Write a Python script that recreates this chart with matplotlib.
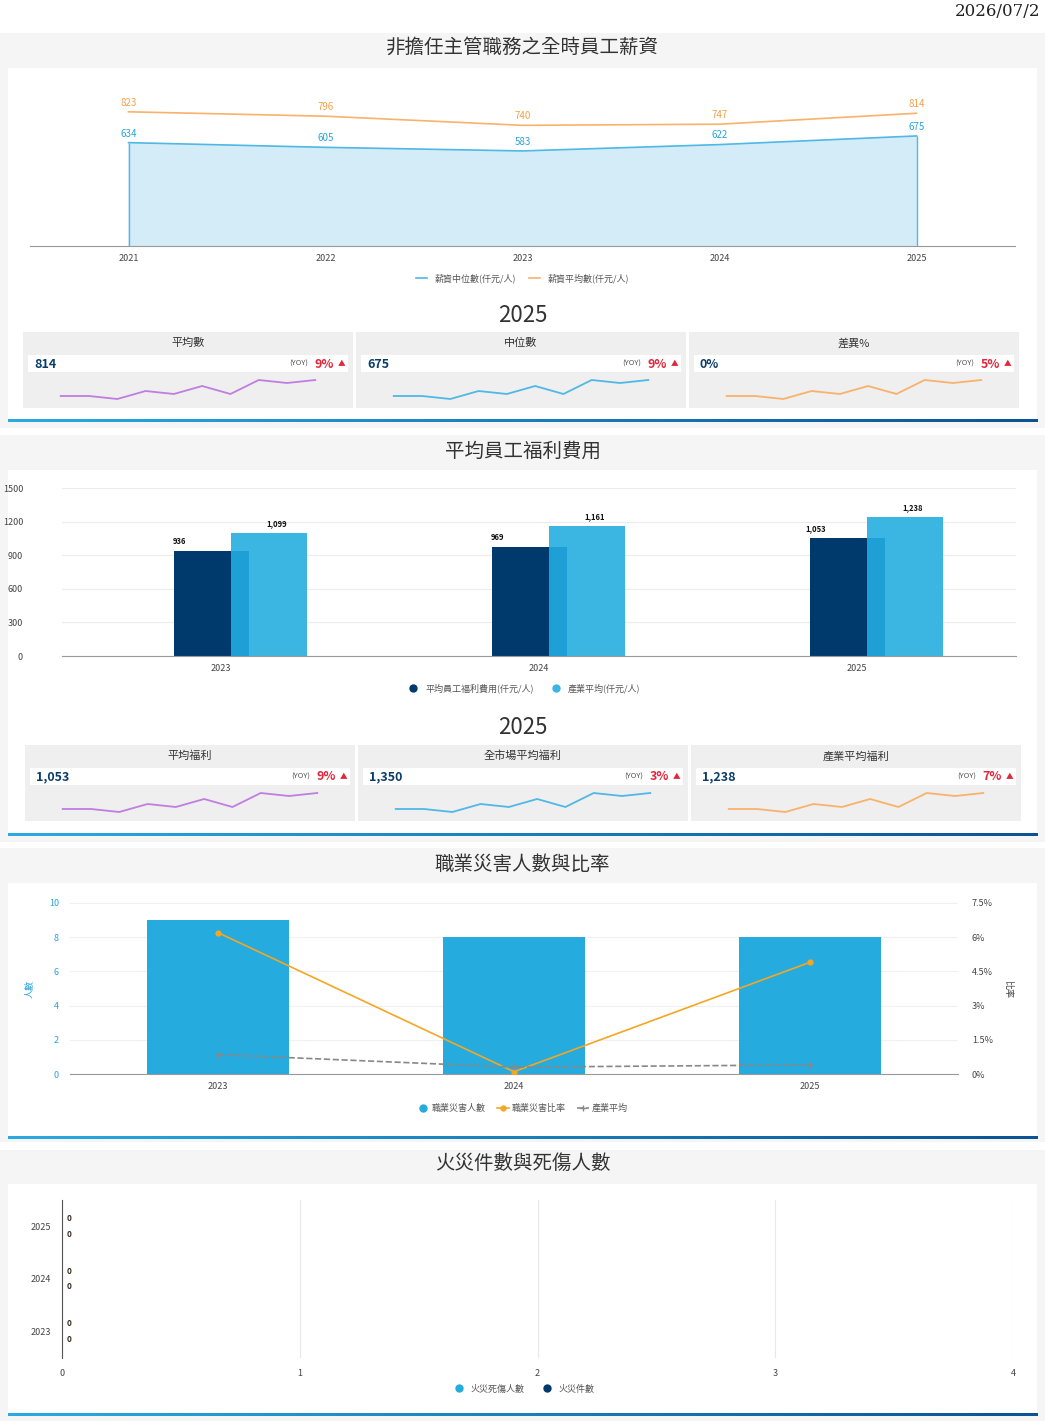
import matplotlib
matplotlib.use("Agg")
import matplotlib.pyplot as plt
from matplotlib.patches import Rectangle
from matplotlib.lines import Line2D
import numpy as np

plt.rcParams['font.family'] = ['Noto Sans CJK TC', 'DejaVu Sans']

# ---------------- data ----------------
sal_years = ["2021", "2022", "2023", "2024", "2025"]
sal_median = [634, 605, 583, 622, 675]
sal_mean = [823, 796, 740, 747, 814]

kpi1_titles = ["平均數", "中位數", "差異%"]
kpi1_values = ["814", "675", "0%"]
kpi1_yoy = ["9%", "9%", "5%"]

ben_years = ["2023", "2024", "2025"]
ben_company = [936, 969, 1053]
ben_industry = [1099, 1161, 1238]

kpi2_titles = ["平均福利", "全市場平均福利", "產業平均福利"]
kpi2_values = ["1,053", "1,350", "1,238"]
kpi2_yoy = ["9%", "3%", "7%"]

spark = [0.0, 0.0, -0.3, 0.5, 0.2, 1.0, 0.2, 1.6, 1.3, 1.6]
spark_colors = ["#c07ee0", "#4fb8e6", "#f8b26a"]

occ_years = ["2023", "2024", "2025"]
occ_count = [9, 8, 8]
occ_rate = [6.2, 0.1, 4.9]
occ_ind = [0.85, 0.3, 0.4]

fire_years = ["2023", "2024", "2025"]
fire_injury = [0, 0, 0]
fire_count = [0, 0, 0]

W, H = 1045, 1421
fig = plt.figure(figsize=(W / 100, H / 100), dpi=100)
fig.patch.set_facecolor("white")

def fx(x): return x / W
def fy(y): return 1 - y / H

def px_axes(x, y, w, h, **kw):
    a = fig.add_axes([fx(x), fy(y + h), w / W, h / H], **kw)
    a.patch.set_alpha(0)
    return a

def rect(x, y, w, h, color, z=0):
    fig.patches.append(Rectangle((fx(x), fy(y + h)), w / W, h / H, transform=fig.transFigure,
                                 facecolor=color, edgecolor="none", zorder=z - 10))

def gradient_line(y):
    ax = px_axes(8, y, 1030, 3)
    grad = np.linspace(0, 1, 256)[None, :]
    ax.imshow(grad, aspect="auto", cmap=matplotlib.colors.LinearSegmentedColormap.from_list("g", ["#29abe2", "#0b5394"]))
    ax.axis("off")

fig.text(fx(1040), fy(12), "2026/07/2", ha="right", va="center", fontsize=12, family="DejaVu Serif", color="#222")

for (y0, y1) in [(33, 428), (435, 842), (848, 1142), (1150, 1421)]:
    rect(0, y0, W, y1 - y0, "#f5f5f5", 0)
for (y0, y1) in [(68, 420), (470, 833), (883, 1137), (1184, 1414)]:
    rect(8, y0, 1029, y1 - y0, "white", 1)
gradient_line(419)
gradient_line(833)
gradient_line(1136)
gradient_line(1413)

titles = [(47, "非擔任主管職務之全時員工薪資"), (451, "平均員工福利費用"), (864, "職業災害人數與比率"), (1163, "火災件數與死傷人數")]
for y, t in titles:
    fig.text(0.5, fy(y), t, ha="center", va="center", fontsize=14, weight="medium", color="#333")

# ---------------- salary line chart ----------------
ax = px_axes(30, 80, 985, 166)
x = np.arange(len(sal_years))
ax.fill_between(x, sal_median, color="#d4ecf8", zorder=1)
ax.plot(x, sal_median, color="#4fb8e6", lw=1.2, zorder=2)
ax.plot(x, sal_mean, color="#f8b26a", lw=1.2, zorder=2)
ax.vlines([x[0], x[-1]], 0, [sal_median[0], sal_median[-1]], color="#4fb8e6", lw=1)
for i in x:
    ax.text(i, sal_median[i] + 25, str(sal_median[i]), ha="center", va="bottom", fontsize=7, color="#29a3dc")
    ax.text(i, sal_mean[i] + 25, str(sal_mean[i]), ha="center", va="bottom", fontsize=7, color="#f5a04a")
ax.set_xlim(-0.5, 4.5)
ax.set_ylim(0, 1018)
ax.set_xticks(x, sal_years, fontsize=6.5, color="#444")
ax.set_yticks([])
for s in ["top", "right", "left"]:
    ax.spines[s].set_visible(False)
ax.spines["bottom"].set_color("#999")
ax.tick_params(axis="x", length=0, pad=6)
h = [Line2D([], [], color="#4fb8e6", lw=1.2), Line2D([], [], color="#f8b26a", lw=1.2)]
fig.legend(h, ["薪資中位數(仟元/人)", "薪資平均數(仟元/人)"], loc="center", bbox_to_anchor=(0.5, fy(278)),
           ncol=2, frameon=False, fontsize=6.5, handlelength=1.2, columnspacing=1.5, labelcolor="#555")

# ---------------- KPI cards ----------------
def kpi_row(ytitle, yblock, xs, titles_, values, yoys):
    fig.text(0.5, fy(ytitle), "2025", ha="center", va="center", fontsize=16, color="#333")
    for k, x0 in enumerate(xs):
        w = 330
        rect(x0, yblock, w, 76, "#efefef", 2)
        fig.text(fx(x0 + w / 2), fy(yblock + 11), titles_[k], ha="center", va="center", fontsize=8, color="#333")
        rect(x0 + 5, yblock + 23, w - 10, 17, "white", 3)
        fig.text(fx(x0 + 11), fy(yblock + 32), values[k], ha="left", va="center", fontsize=9, weight="bold", color="#0b3d6b")
        fig.text(fx(x0 + w - 8), fy(yblock + 32), "▲", ha="right", va="center", fontsize=5.5, color="#e0283c")
        fig.text(fx(x0 + w - 19), fy(yblock + 32), yoys[k], ha="right", va="center", fontsize=9, weight="bold", color="#e0283c")
        fig.text(fx(x0 + w - 45), fy(yblock + 32), "(YOY)", ha="right", va="center", fontsize=5.5, color="#555")
        sa = px_axes(x0 + 25, yblock + 44, w - 50, 28)
        sa.plot(range(len(spark)), spark, color=spark_colors[k], lw=1.3)
        sa.set_ylim(-0.8, 2.0)
        sa.axis("off")

kpi_row(316, 332, [23, 356, 689], kpi1_titles, kpi1_values, kpi1_yoy)

# ---------------- benefit bar chart ----------------
ax = px_axes(62, 488, 954, 168)
xb = np.arange(len(ben_years))
ax.bar(xb - 0.030, ben_company, width=0.236, color="#003a6c", zorder=2)
ax.bar(xb + 0.151, ben_industry, width=0.239, color="#3bb6e2", zorder=2)
ax.bar(xb + 0.060, ben_company, width=0.056, color="#1e9fd6", zorder=3)
for i in xb:
    ax.text(i - 0.13, ben_company[i] + 45, f"{ben_company[i]:,}", ha="center", va="bottom", fontsize=5.5, weight="bold", color="#111")
    ax.text(i + 0.175, ben_industry[i] + 45, f"{ben_industry[i]:,}", ha="center", va="bottom", fontsize=5.5, weight="bold", color="#111")
ax.set_xlim(-0.5, 2.5)
ax.set_ylim(0, 1500)
ax.set_yticks([0, 300, 600, 900, 1200, 1500])
ax.set_yticklabels(["0", "300", "600", "900", "1200", "1500"], fontsize=6.5, color="#444")
ax.set_xticks(xb, ben_years, fontsize=6.5, color="#444")
ax.grid(axis="y", color="#ececec", lw=0.8, zorder=0)
ax.set_axisbelow(True)
for s in ["top", "right", "left"]:
    ax.spines[s].set_visible(False)
ax.spines["bottom"].set_color("#999")
ax.tick_params(length=0, pad=6)
ax.tick_params(axis="y", pad=28)
h = [Line2D([], [], marker="o", ls="", color="#003a6c", ms=5), Line2D([], [], marker="o", ls="", color="#3bb6e2", ms=5)]
fig.legend(h, ["平均員工福利費用(仟元/人)", "產業平均(仟元/人)"], loc="center", bbox_to_anchor=(0.5, fy(688)),
           ncol=2, frameon=False, fontsize=6.5, handletextpad=0.3, columnspacing=1.5, labelcolor="#555")

kpi_row(727, 745, [25, 358, 691], kpi2_titles, kpi2_values, kpi2_yoy)

# ---------------- occupational injury ----------------
ax = px_axes(70, 903, 888, 171)
xo = np.arange(len(occ_years))
ax.bar(xo, occ_count, width=0.48, color="#25abdd", zorder=2)
ax.set_xlim(-0.5, 2.5)
ax.set_ylim(0, 10)
ax.set_yticks([0, 2, 4, 6, 8, 10])
ax.set_yticklabels(["0", "2", "4", "6", "8", "10"], fontsize=6.5, color="#29a3dc")
ax.set_xticks(xo, occ_years, fontsize=6.5, color="#444")
ax.set_ylabel("人數", fontsize=6.5, color="#29a3dc", labelpad=10)
ax.grid(axis="y", color="#f0f0f0", lw=0.8)
ax.set_axisbelow(True)
for s in ["top", "right", "left"]:
    ax.spines[s].set_visible(False)
ax.spines["bottom"].set_color("#999")
ax.tick_params(length=0, pad=6)
ax.tick_params(axis="y", pad=8)
ax2 = ax.twinx()
ax2.patch.set_alpha(0)
ax2.plot(xo, occ_rate, color="#f5a623", lw=1.2, marker="o", ms=3.5, zorder=4)
ax2.plot(xo, occ_ind, color="#888", lw=1.2, ls="--", marker="+", ms=4, zorder=4)
ax2.set_ylim(0, 7.5)
ax2.set_yticks([0, 1.5, 3, 4.5, 6, 7.5])
ax2.set_yticklabels(["0%", "1.5%", "3%", "4.5%", "6%", "7.5%"], fontsize=6.5, color="#444")
ax2.set_ylabel("比率", fontsize=6.5, color="#444", rotation=270, labelpad=14)
for s in ["top", "right", "left", "bottom"]:
    ax2.spines[s].set_visible(False)
ax2.tick_params(length=0, pad=10)
h = [Line2D([], [], marker="o", ls="", color="#25abdd", ms=5),
     Line2D([], [], marker="o", color="#f5a623", ms=3.5, lw=1.2),
     Line2D([], [], marker="+", color="#888", ls="--", ms=4, lw=1.2)]
fig.legend(h, ["職業災害人數", "職業災害比率", "產業平均"], loc="center", bbox_to_anchor=(0.5, fy(1108)),
           ncol=3, frameon=False, fontsize=6.5, handlelength=1.3, handletextpad=0.3, columnspacing=1.3, labelcolor="#555")

# ---------------- fire ----------------
ax = px_axes(62, 1200, 951, 158)
yf = np.arange(len(fire_years))
ax.barh(yf + 0.15, fire_injury, height=0.3, color="#25abdd")
ax.barh(yf - 0.15, fire_count, height=0.3, color="#003a6c")
for i in yf:
    ax.text(0.02, i + 0.15, str(fire_injury[i]), va="center", ha="left", fontsize=6, weight="bold", color="#3a2a1a")
    ax.text(0.02, i - 0.15, str(fire_count[i]), va="center", ha="left", fontsize=6, weight="bold", color="#3a2a1a")
ax.set_xlim(0, 4)
ax.set_ylim(-0.5, 2.5)
ax.set_xticks([0, 1, 2, 3, 4])
ax.set_xticklabels(["0", "1", "2", "3", "4"], fontsize=6.5, color="#444")
ax.set_yticks(yf, fire_years, fontsize=6.5, color="#444")
ax.grid(axis="x", color="#e8e8e8", lw=0.8)
ax.set_axisbelow(True)
for s in ["top", "right", "bottom"]:
    ax.spines[s].set_visible(False)
ax.spines["left"].set_color("#555")
ax.tick_params(length=0, pad=8)
h = [Line2D([], [], marker="o", ls="", color="#25abdd", ms=5), Line2D([], [], marker="o", ls="", color="#003a6c", ms=5)]
fig.legend(h, ["火災死傷人數", "火災件數"], loc="center", bbox_to_anchor=(0.5, fy(1389)),
           ncol=2, frameon=False, fontsize=6.5, handletextpad=0.3, columnspacing=1.5, labelcolor="#555")

fig.savefig("out.png", dpi=100)
